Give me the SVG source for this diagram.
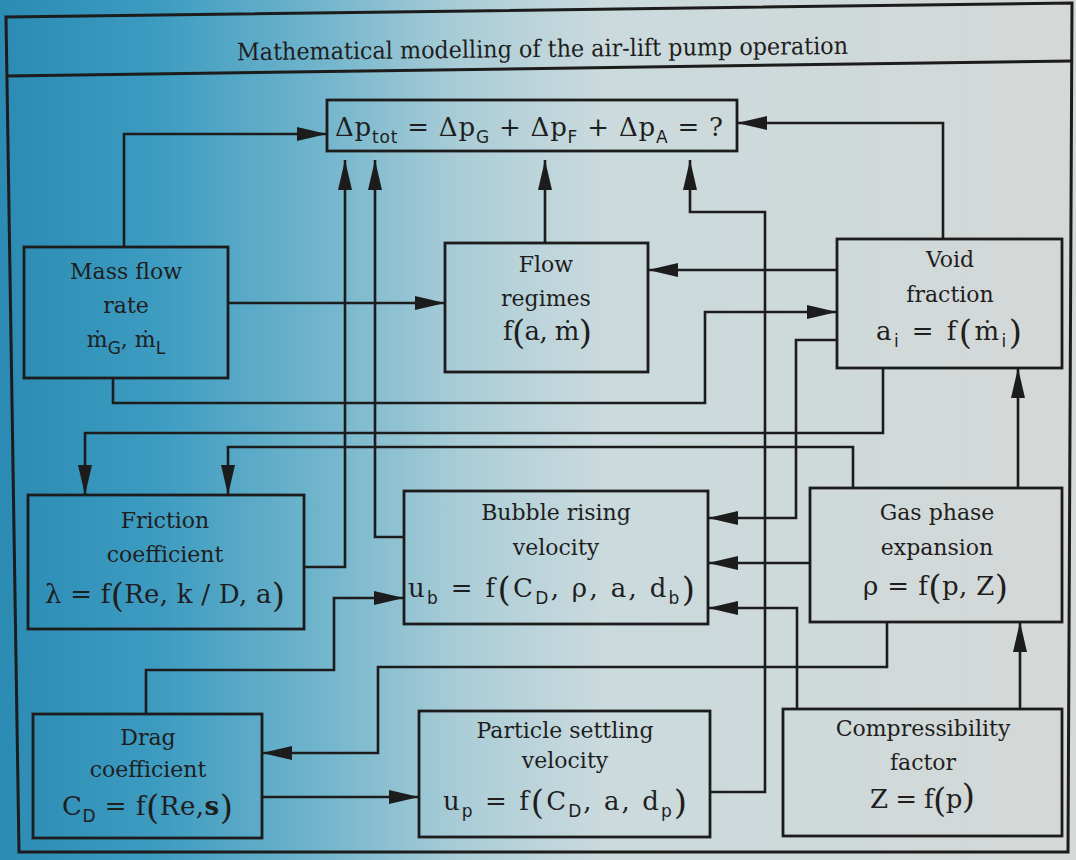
<svg xmlns="http://www.w3.org/2000/svg" width="1076" height="860" viewBox="0 0 1076 860">
  <defs>
    <linearGradient id="bg" x1="0" y1="0" x2="1" y2="0">
      <stop offset="0" stop-color="#2b8bb3"/>
      <stop offset="0.15" stop-color="#3e9cc1"/>
      <stop offset="0.3" stop-color="#72b5cc"/>
      <stop offset="0.43" stop-color="#abcdd7"/>
      <stop offset="0.56" stop-color="#cadadd"/>
      <stop offset="1" stop-color="#d5d8d7"/>
    </linearGradient>
    <marker id="ah" markerWidth="30" markerHeight="14" refX="30" refY="7" orient="auto" markerUnits="userSpaceOnUse">
      <path d="M0,0 L30,7 L0,14 Z" fill="#1c1c1c"/>
    </marker>
    <style>
      .box { fill: none; stroke: #1c1c1c; stroke-width: 2.8; }
      .con { fill: none; stroke: #1c1c1c; stroke-width: 2.6; marker-end: url(#ah); }
      .frame { fill: none; stroke: #1c1c1c; stroke-width: 3; }
      .lbl { font-family: "DejaVu Serif", "Liberation Serif", serif; font-size: 22px; fill: #1e1e1e; text-anchor: middle; }
      .fm { font-family: "DejaVu Serif", "Liberation Serif", serif; font-size: 26px; fill: #1e1e1e; }
      .sub { font-family: "DejaVu Sans", "Liberation Sans", sans-serif; font-size: 17px; }
      .par { font-size: 34px; }
      .title { font-family: "DejaVu Serif", "Liberation Serif", serif; font-size: 24px; fill: #1e1e1e; }
    </style>
  </defs>

  <rect x="0" y="0" width="1076" height="860" fill="url(#bg)"/>

  <g id="frame">
    <path class="frame" d="M6,17 L1072,3 L1068,852 L19,852 Z"/>
    <path class="frame" d="M6,76 L1072,61"/>
    <text class="title" x="237" y="57" textLength="611" lengthAdjust="spacingAndGlyphs" transform="rotate(-0.6 543 54)">Mathematical modelling of the air-lift pump operation</text>
  </g>

  <g id="connectors">
    <path class="con" d="M124,247 V134 H327"/>
    <path class="con" d="M304,567 H345 V160"/>
    <path class="con" d="M404,537 H375 V160"/>
    <path class="con" d="M545,243 V160"/>
    <path class="con" d="M710,792 H765 V212 H690 V160"/>
    <path class="con" d="M943,239 V123 H737"/>
    <path class="con" d="M228,303 H445"/>
    <path class="con" d="M837,270 H648"/>
    <path class="con" d="M113,378 V403 H705 V312 H837"/>
    <path class="con" d="M837,340 H796 V518 H708"/>
    <path class="con" d="M883,368 V433 H85 V495"/>
    <path class="con" d="M853,488 V447 H228 V495"/>
    <path class="con" d="M1018,488 V368"/>
    <path class="con" d="M810,563 H708"/>
    <path class="con" d="M797,709 V608 H708"/>
    <path class="con" d="M887,622 V667 H378 V753 H262"/>
    <path class="con" d="M146,714 V670 H334 V598 H404"/>
    <path class="con" d="M262,797 H419"/>
    <path class="con" d="M1020,709 V622"/>
  </g>

  <g id="total-pressure">
    <rect class="box" x="327" y="100" width="410" height="51"/>
    <text class="fm" x="335" y="136" font-size="27" textLength="388" lengthAdjust="spacing">Δp<tspan class="sub" dy="7">tot</tspan><tspan dy="-7"> = Δp</tspan><tspan class="sub" dy="7">G</tspan><tspan dy="-7"> + Δp</tspan><tspan class="sub" dy="7">F</tspan><tspan dy="-7"> + Δp</tspan><tspan class="sub" dy="7">A</tspan><tspan dy="-7"> = ?</tspan></text>
  </g>

  <g id="mass-flow">
    <rect class="box" x="24" y="247" width="204" height="131"/>
    <text class="lbl" x="126" y="279">Mass flow</text>
    <text class="lbl" x="126" y="313">rate</text>
    <text class="lbl" x="126" y="347">ṁ<tspan class="sub" dy="7">G</tspan><tspan dy="-7">, ṁ</tspan><tspan class="sub" dy="7">L</tspan></text>
  </g>

  <g id="flow-regimes">
    <rect class="box" x="445" y="243" width="203" height="129"/>
    <text class="lbl" x="546" y="272">Flow</text>
    <text class="lbl" x="546" y="306">regimes</text>
    <text class="fm" x="503" y="340" textLength="89" lengthAdjust="spacing">f<tspan class="par" dy="4">(</tspan><tspan dy="-4">a, ṁ</tspan><tspan class="par" dy="4">)</tspan></text>
  </g>

  <g id="void-fraction">
    <rect class="box" x="837" y="239" width="225" height="129"/>
    <text class="lbl" x="950" y="267">Void</text>
    <text class="lbl" x="950" y="302">fraction</text>
    <text class="fm" x="876" y="340" textLength="146" lengthAdjust="spacing">a<tspan class="sub" dy="7">i</tspan><tspan dy="-7"> = f</tspan><tspan class="par" dy="4">(</tspan><tspan dy="-4">ṁ</tspan><tspan class="sub" dy="7">i</tspan><tspan class="par" dy="-3">)</tspan></text>
  </g>

  <g id="friction">
    <rect class="box" x="28" y="495" width="276" height="134"/>
    <text class="lbl" x="165" y="528">Friction</text>
    <text class="lbl" x="165" y="562">coefficient</text>
    <text class="fm" x="45" y="603" textLength="240" lengthAdjust="spacing">λ = f<tspan class="par" dy="4">(</tspan><tspan dy="-4">Re, k / D, a</tspan><tspan class="par" dy="4">)</tspan></text>
  </g>

  <g id="bubble-rising">
    <rect class="box" x="404" y="491" width="304" height="133"/>
    <text class="lbl" x="556" y="520">Bubble  rising</text>
    <text class="lbl" x="556" y="555">velocity</text>
    <text class="fm" x="408" y="597" textLength="287" lengthAdjust="spacing">u<tspan class="sub" dy="7">b</tspan><tspan dy="-7"> = f</tspan><tspan class="par" dy="4">(</tspan><tspan dy="-4">C</tspan><tspan class="sub" dy="7">D</tspan><tspan dy="-7">, ρ, a, d</tspan><tspan class="sub" dy="7">b</tspan><tspan class="par" dy="-3">)</tspan></text>
  </g>

  <g id="gas-expansion">
    <rect class="box" x="810" y="488" width="252" height="134"/>
    <text class="lbl" x="937" y="520">Gas phase</text>
    <text class="lbl" x="937" y="555">expansion</text>
    <text class="fm" x="863" y="595" textLength="145" lengthAdjust="spacing">ρ = f<tspan class="par" dy="4">(</tspan><tspan dy="-4">p, Z</tspan><tspan class="par" dy="4">)</tspan></text>
  </g>

  <g id="drag">
    <rect class="box" x="33" y="714" width="229" height="124"/>
    <text class="lbl" x="148" y="745">Drag</text>
    <text class="lbl" x="148" y="777">coefficient</text>
    <text class="fm" x="62" y="815" textLength="171" lengthAdjust="spacing">C<tspan class="sub" dy="7">D</tspan><tspan dy="-7"> = f</tspan><tspan class="par" dy="4">(</tspan><tspan dy="-4">Re,</tspan><tspan font-weight="bold">s</tspan><tspan class="par" dy="4">)</tspan></text>
  </g>

  <g id="particle-settling">
    <rect class="box" x="419" y="711" width="291" height="126"/>
    <text class="lbl" x="565" y="738">Particle  settling</text>
    <text class="lbl" x="565" y="768">velocity</text>
    <text class="fm" x="443" y="810" textLength="244" lengthAdjust="spacing">u<tspan class="sub" dy="7">p</tspan><tspan dy="-7"> = f</tspan><tspan class="par" dy="4">(</tspan><tspan dy="-4">C</tspan><tspan class="sub" dy="7">D</tspan><tspan dy="-7">, a, d</tspan><tspan class="sub" dy="7">p</tspan><tspan class="par" dy="-3">)</tspan></text>
  </g>

  <g id="compressibility">
    <rect class="box" x="783" y="709" width="279" height="127"/>
    <text class="lbl" x="923" y="736">Compressibility</text>
    <text class="lbl" x="923" y="770">factor</text>
    <text class="fm" x="870" y="808" textLength="105" lengthAdjust="spacing">Z = f<tspan class="par" dy="4">(</tspan><tspan dy="-4">p</tspan><tspan class="par">)</tspan></text>
  </g>
</svg>
